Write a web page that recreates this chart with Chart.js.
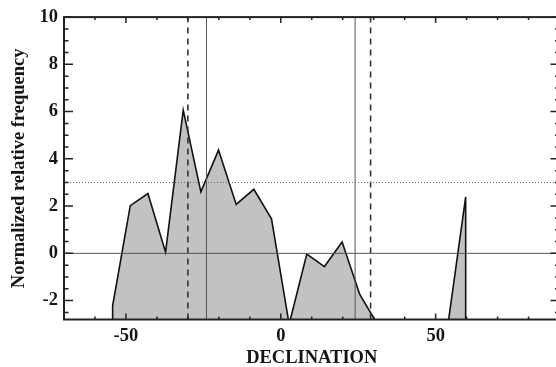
<!DOCTYPE html>
<html>
<head>
<meta charset="utf-8">
<script src="https://cdn.jsdelivr.net/npm/chart.js@4"></script>
<style>
  html, body { margin: 0; padding: 0; background: #fff; }
  #wrap { width: 556px; height: 367px; overflow: hidden; }
  canvas { display: block; }
</style>
</head>
<body>
<div id="wrap"><canvas id="chart" width="562" height="367"></canvas></div>
<script>
// histogram polygon (declination in deg, value); -3 = below the axis
const declination = [-54.3, -54.3, -48.6, -42.9, -37.2, -31.5, -25.8, -20.1, -14.4, -8.7, -3.0, 2.7,
  8.4, 14.1, 19.8, 25.5, 31.2, 36.9, 42.6, 48.3, 54.0, 59.7, 59.7];
const frequency = [-3, -2.22, 2.02, 2.53, 0.05, 6.06, 2.6, 4.37, 2.07, 2.71, 1.46, -3,
  -0.03, -0.56, 0.48, -1.74, -3, -3, -3, -3, -3, 2.39, -3];

// reference lines
const solidX = [-24, 24];
const dashedX = [-30, 29];
const zeroLevel = 0;
const dottedLevel = 3;

// axes
const xRange = [-70, 90];
const yRange = [-2.8, 10];
const xTicks = [-50, 0, 50];
const yTicks = [-2, 0, 2, 4, 6, 8, 10];
const xMinorStep = 10;
const yMinorStep = 0.5;

const serif = "'Liberation Serif', 'Times New Roman', serif";
const ink = '#151515';

function vLine(x, dash, width, color) {
  return {
    data: [{ x: x, y: yRange[0] }, { x: x, y: yRange[1] }],
    borderColor: color, borderWidth: width, borderDash: dash,
    pointRadius: 0, fill: false, clip: 0, order: 1
  };
}
function hLine(y, dash, width, color) {
  return {
    data: [{ x: xRange[0], y: y }, { x: xRange[1], y: y }],
    borderColor: color, borderWidth: width, borderDash: dash,
    pointRadius: 0, fill: false, clip: 0, order: 1
  };
}

const datasets = [
  {
    data: declination.map((d, i) => ({ x: d, y: frequency[i] })),
    borderColor: '#111',
    borderWidth: 1.6,
    backgroundColor: '#c2c2c2',
    fill: 'start',
    tension: 0,
    pointRadius: 0,
    clip: 0,
    order: 2
  },
  hLine(zeroLevel, [], 1, '#555'),
  hLine(dottedLevel, [1, 2], 1, '#666'),
  ...solidX.map(x => vLine(x, [], 1, '#555')),
  ...dashedX.map(x => vLine(x, [6, 5], 1.6, '#333'))
];

// inward ticks on all four sides + frame
const frameTicks = {
  id: 'frameTicks',
  afterDatasetsDraw(chart) {
    const { ctx, chartArea: a, scales: { x, y } } = chart;
    ctx.save();
    ctx.strokeStyle = '#222';
    ctx.lineWidth = 1.5;
    ctx.beginPath();
    for (let v = xRange[0]; v <= xRange[1] + 1e-9; v += xMinorStep) {
      const px = x.getPixelForValue(v);
      const len = xTicks.includes(v) ? 6 : 3;
      ctx.moveTo(px, a.bottom); ctx.lineTo(px, a.bottom - len);
      ctx.moveTo(px, a.top); ctx.lineTo(px, a.top + len);
    }
    for (let v = -2.5; v <= yRange[1] + 1e-9; v += yMinorStep) {
      const py = y.getPixelForValue(v);
      const major = Math.abs(v % 2) < 1e-9;
      const len = major ? 9 : 4.5;
      ctx.moveTo(a.left, py); ctx.lineTo(a.left + len, py);
      ctx.moveTo(a.right, py); ctx.lineTo(a.right - len, py);
    }
    ctx.stroke();
    ctx.lineWidth = 2;
    ctx.strokeRect(a.left, a.top, a.right - a.left, a.bottom - a.top);
    ctx.restore();
  }
};

new Chart(document.getElementById('chart'), {
  type: 'line',
  data: { datasets },
  options: {
    responsive: false,
    animation: false,
    devicePixelRatio: 1,
    layout: { padding: { top: 12.5, right: 2.5, left: 0, bottom: 0 } },
    plugins: { legend: { display: false }, tooltip: { enabled: false } },
    scales: {
      x: {
        type: 'linear',
        min: xRange[0], max: xRange[1],
        grid: { display: false, drawTicks: false },
        border: { display: false },
        afterBuildTicks: s => { s.ticks = xTicks.map(value => ({ value })); },
        afterFit: s => { s.height = 47.5; },
        ticks: {
          padding: 6, color: ink,
          font: { family: serif, size: 18.5, weight: 'bold' }
        },
        title: {
          display: true, text: 'DECLINATION', color: ink,
          font: { family: serif, size: 18.5, weight: 'bold', lineHeight: 0.9 },
          padding: { top: 0, bottom: 0 }
        }
      },
      y: {
        type: 'linear',
        min: yRange[0], max: yRange[1],
        grid: { display: false, drawTicks: false },
        border: { display: false },
        afterBuildTicks: s => { s.ticks = yTicks.map(value => ({ value })); },
        afterFit: s => { s.width = 64; },
        ticks: {
          padding: 6, color: ink,
          font: { family: serif, size: 18.5, weight: 'bold' }
        },
        title: {
          display: true, text: 'Normalized relative frequency', color: ink,
          font: { family: serif, size: 18.5, weight: 'bold', lineHeight: 1 },
          padding: { top: 9.5, bottom: 0 }
        }
      }
    }
  },
  plugins: [frameTicks]
});
</script>
</body>
</html>
